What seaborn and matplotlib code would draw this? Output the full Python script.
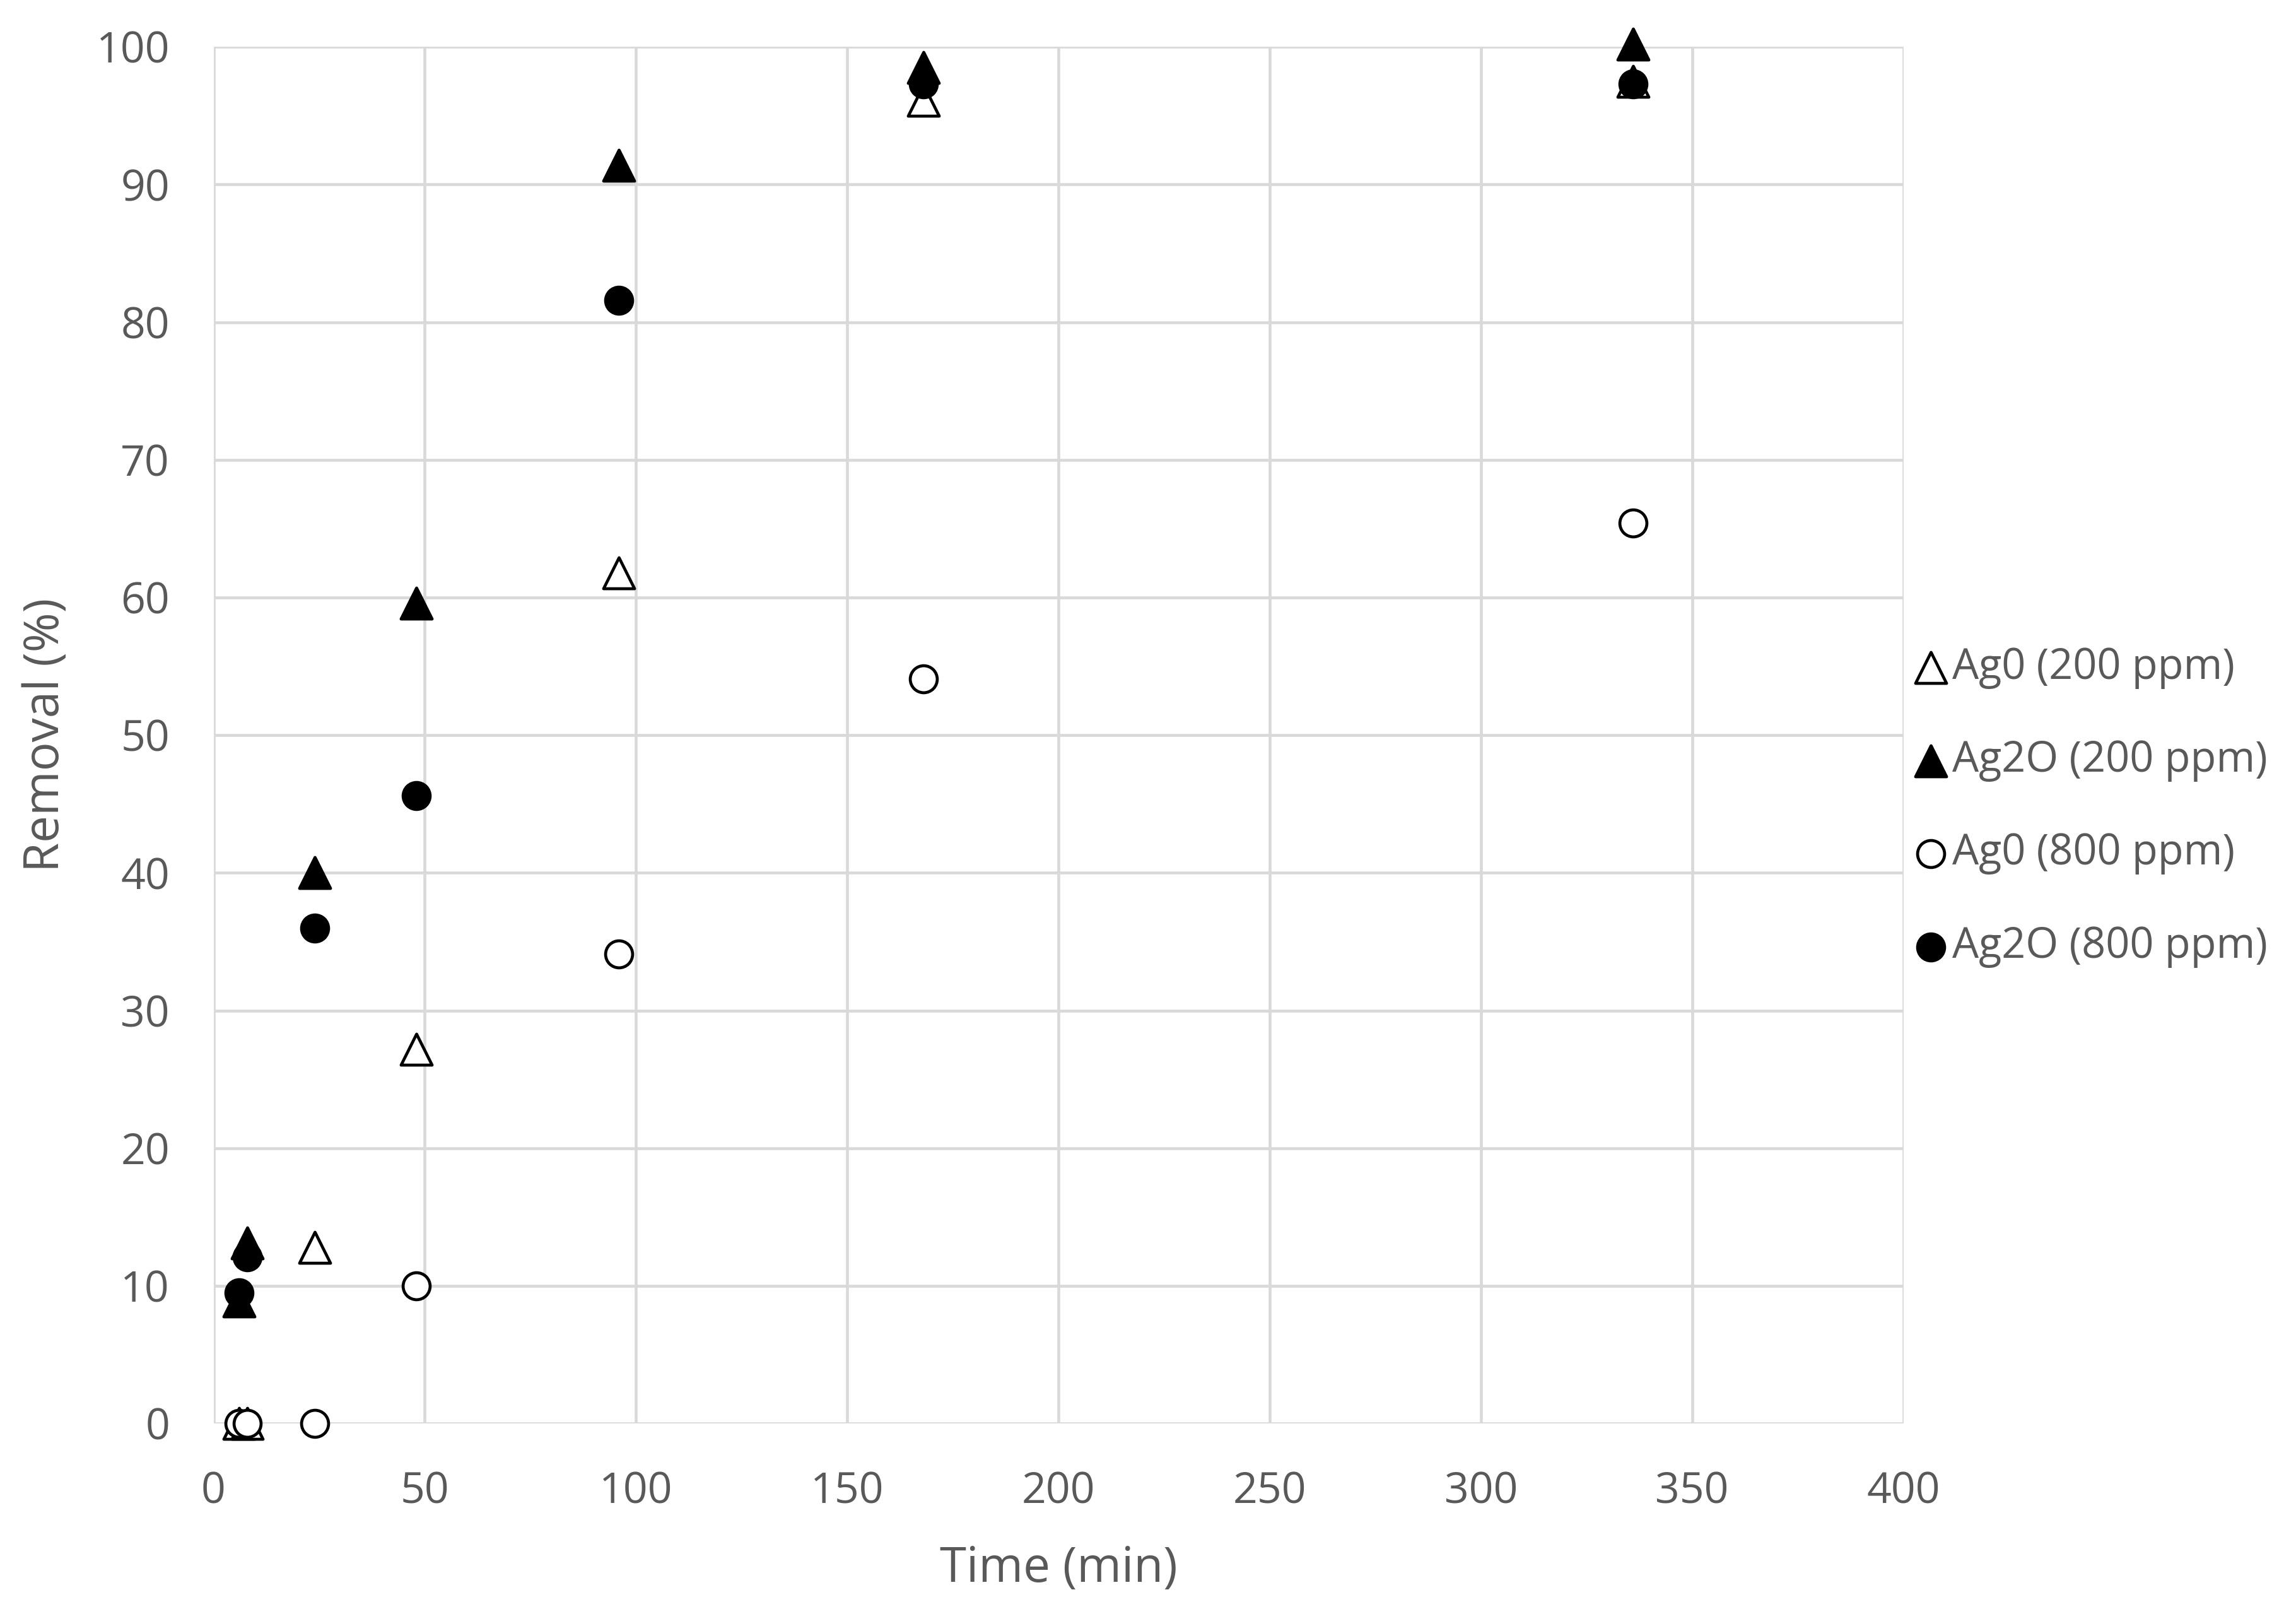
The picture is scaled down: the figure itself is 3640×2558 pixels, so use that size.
import pandas as pd
import numpy as np
import seaborn as sns
import matplotlib
matplotlib.use("Agg")
import matplotlib.pyplot as plt

# datos
tiempo = [6, 8, 24, 48, 96, 168, 336]
ag0_200 = [0, 0, 12.8, 27.2, 61.8, 96.1, 97.5]
ag2o_200 = [8.9, 13.1, 40.0, 59.6, 91.4, 98.5, 100.2]
ag0_800 = [0, 0, 0, 10.0, 34.1, 54.1, 65.4]
ag2o_800 = [9.5, 12.1, 36.0, 45.6, 81.6, 97.3, 97.3]
series = ["Ag0 (200 ppm)", "Ag2O (200 ppm)", "Ag0 (800 ppm)", "Ag2O (800 ppm)"]

sns.set_style("white")
plt.rcParams['font.family'] = ['Open Sans', 'DejaVu Sans']
gris = "#595959"

datos = pd.DataFrame({
    "tiempo": tiempo * 4,
    "remocion": ag0_200 + ag2o_200 + ag0_800 + ag2o_800,
    "serie": np.repeat(series, len(tiempo)),
})

fig = plt.figure(figsize=(36.4, 25.58), dpi=100)
ax = fig.add_axes([0.093, 0.118, 0.736, 0.853])

estilos = {
    "Ag0 (200 ppm)": ("^", "white", 1250),
    "Ag2O (200 ppm)": ("^", "black", 1250),
    "Ag0 (800 ppm)": ("o", "white", 950),
    "Ag2O (800 ppm)": ("o", "black", 950),
}
for s in series:
    marca, relleno, tam = estilos[s]
    sub = datos[datos["serie"] == s]
    sns.scatterplot(data=sub, x="tiempo", y="remocion", ax=ax, marker=marca,
                    s=tam, color=relleno, edgecolor="black", linewidth=3.4,
                    label=s, zorder=3, clip_on=False)

ax.set_xlim(0, 400)
ax.set_ylim(0, 100)
ax.set_xticks(range(0, 401, 50))
ax.set_yticks(range(0, 101, 10))
ax.grid(True, color="#d9d9d9", linewidth=3.3)
ax.set_axisbelow(True)
for sp in ax.spines.values():
    sp.set_visible(False)
ax.tick_params(axis="x", length=0, labelsize=49, labelcolor=gris, pad=54)
ax.tick_params(axis="y", length=0, labelsize=49, labelcolor=gris, pad=50)
ax.set_xlabel("Time (min)", fontsize=55, color=gris, labelpad=36)
ax.set_ylabel("Removal (%)", fontsize=55, color=gris, labelpad=30)

handles, labels = ax.get_legend_handles_labels()
ax.get_legend().remove()
fig.legend(handles, labels, loc="center left", bbox_to_anchor=(0.8245, 0.5),
           frameon=False, fontsize=48, labelcolor=gris, handletextpad=0.0,
           handlelength=1.0, labelspacing=1.2, borderaxespad=0)

plt.savefig("out.png", dpi=100)
plt.clf()
